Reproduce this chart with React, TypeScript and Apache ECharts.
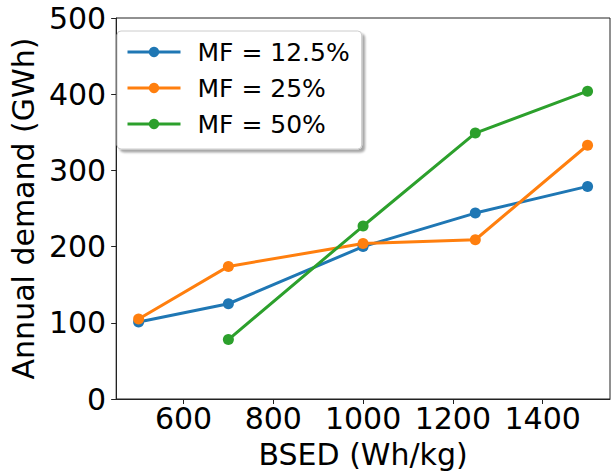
import React, { useEffect, useRef } from "react";
import * as echarts from "echarts";

const bsed = [500, 700, 1000, 1250, 1500];
const mf125 = [101, 125, 200, 244, 279];
const mf25 = [105, 174, 204, 209, 333];
const bsedGreen = [700, 1000, 1250, 1500];
const mf50 = [78, 227, 349, 404];
const seriesNames = ["MF = 12.5%", "MF = 25%", "MF = 50%"];
const colors = ["#1f77b4", "#ff7f0e", "#2ca02c"];
const xTicks = [600, 800, 1000, 1200, 1400];

const FONT = "DejaVu Sans";

export default function App() {
  const ref = useRef<HTMLDivElement>(null);
  useEffect(() => {
    if (!ref.current) return;
    const chart = echarts.init(ref.current, undefined, { renderer: "svg" });
    const pair = (xs: number[], ys: number[]) => xs.map((x, i) => [x, ys[i]]);
    const mk = (name: string, data: number[][], color: string) => ({
      name,
      type: "line",
      data,
      symbol: "circle",
      symbolSize: 11,
      itemStyle: { color },
      lineStyle: { color, width: 3 },
      emphasis: { disabled: true },
    });
    chart.setOption({
      animation: false,
      backgroundColor: "#ffffff",
      textStyle: { fontFamily: FONT },
      grid: {
        left: 105,
        right: 3,
        top: 18,
        bottom: 76,
        show: true,
        borderColor: "#222",
        borderWidth: 1,
        backgroundColor: "transparent",
      },
      legend: {
        left: 117,
        top: 31,
        orient: "vertical",
        data: seriesNames,
        itemWidth: 53,
        itemHeight: 13,
        itemGap: 8,
        padding: [7, 12, 11, 9],
        backgroundColor: "#ffffff",
        borderColor: "#cccccc",
        borderWidth: 1,
        borderRadius: 4,
        shadowColor: "rgba(0,0,0,0.35)",
        shadowBlur: 2,
        shadowOffsetX: 3,
        shadowOffsetY: 3,
        lineStyle: { width: 3 },
        textStyle: {
          fontFamily: FONT,
          fontSize: 25,
          color: "#000",
          lineHeight: 28,
          padding: [0, 0, 0, 12],
        },
      },
      xAxis: {
        type: "value",
        min: 450,
        max: 1550,
        name: "BSED (Wh/kg)",
        nameLocation: "middle",
        nameGap: 40,
        nameTextStyle: { fontFamily: FONT, fontSize: 30, color: "#000" },
        axisLine: { show: true, lineStyle: { color: "#222", width: 1 } },
        axisTick: {
          show: true,
          length: 5,
          customValues: xTicks,
          lineStyle: { color: "#222" },
        },
        axisLabel: {
          customValues: xTicks,
          formatter: (v: number) => String(v),
          fontFamily: FONT,
          fontSize: 30,
          color: "#000",
          margin: 4,
        },
        splitLine: { show: false },
      },
      yAxis: {
        type: "value",
        min: 0,
        max: 500,
        interval: 100,
        name: "Annual demand (GWh)",
        nameLocation: "middle",
        nameGap: 76,
        nameTextStyle: { fontFamily: FONT, fontSize: 30, color: "#000" },
        axisLine: { show: true, lineStyle: { color: "#222", width: 1 } },
        axisTick: { show: true, length: 5, lineStyle: { color: "#222" } },
        axisLabel: {
          formatter: (v: number) => String(v),
          fontFamily: FONT,
          fontSize: 30,
          color: "#000",
          margin: 10,
        },
        splitLine: { show: false },
      },
      series: [
        mk(seriesNames[0], pair(bsed, mf125), colors[0]),
        mk(seriesNames[1], pair(bsed, mf25), colors[1]),
        mk(seriesNames[2], pair(bsedGreen, mf50), colors[2]),
      ],
    });
    return () => chart.dispose();
  }, []);
  return (
    <div
      ref={ref}
      style={{ position: "fixed", left: 0, top: 0, width: 613, height: 475 }}
    />
  );
}
